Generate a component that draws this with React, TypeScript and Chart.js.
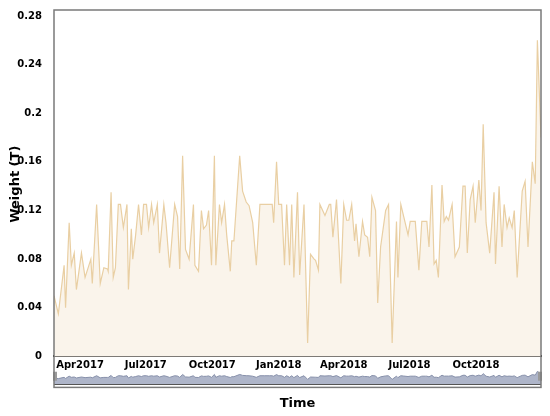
import React, { useEffect, useRef } from "react";
import { Chart, registerables } from "chart.js";

Chart.register(...registerables);

// Days counted from 2017-01-01
const DAYS = [
  54, 60, 68, 70, 75, 78, 82, 85, 92, 97, 105, 107, 113, 118, 123, 128, 129, 133, 136, 139,
  143, 146, 150, 155, 157, 161, 163, 167, 171, 175, 178, 182, 185, 189, 192, 197, 200, 206, 209, 214,
  221, 225, 228, 232, 236, 241, 247, 249, 254, 258, 261, 265, 268, 272, 276, 278, 283, 286, 290, 293,
  298, 300, 303, 311, 315, 320, 324, 329, 334, 339, 345, 352, 356, 358, 362, 365, 369, 373, 376, 380,
  383, 386, 391, 394, 400, 405, 409, 414, 416, 420, 422, 429, 435, 437, 440, 445, 451, 455, 459, 462,
  466, 470, 472, 476, 481, 484, 488, 491, 494, 499, 502, 506, 513, 517, 522, 528, 530, 534, 538, 544,
  547, 551, 554, 559, 563, 568, 570, 573, 577, 580, 583, 586, 591, 594, 597, 600, 605, 609, 615, 620,
  623, 626, 630, 634, 637, 642, 645, 648, 652, 657, 663, 665, 670, 674, 677, 681, 684, 688, 691, 695,
  702, 706, 710, 716, 720, 723, 728,
];

const WEIGHTS = [
  0.05, 0.035, 0.075, 0.04, 0.11, 0.075, 0.085, 0.055, 0.085, 0.065, 0.08, 0.06, 0.125, 0.06, 0.073, 0.072, 0.07, 0.135, 0.065, 0.073,
  0.125, 0.125, 0.106, 0.125, 0.055, 0.105, 0.08, 0.1, 0.125, 0.1, 0.125, 0.125, 0.106, 0.125, 0.11, 0.125, 0.085, 0.125, 0.11, 0.073,
  0.125, 0.115, 0.072, 0.165, 0.088, 0.08, 0.125, 0.075, 0.07, 0.12, 0.105, 0.108, 0.12, 0.075, 0.165, 0.075, 0.125, 0.11, 0.125, 0.1,
  0.07, 0.095, 0.095, 0.165, 0.136, 0.127, 0.124, 0.11, 0.075, 0.125, 0.125, 0.125, 0.125, 0.11, 0.16, 0.125, 0.125, 0.075, 0.125, 0.075,
  0.125, 0.065, 0.135, 0.067, 0.125, 0.011, 0.084, 0.08, 0.079, 0.071, 0.125, 0.116, 0.125, 0.125, 0.098, 0.129, 0.06, 0.125, 0.112, 0.112,
  0.125, 0.095, 0.109, 0.082, 0.111, 0.1, 0.098, 0.082, 0.131, 0.12, 0.044, 0.09, 0.12, 0.125, 0.011, 0.111, 0.065, 0.125, 0.115, 0.1,
  0.111, 0.111, 0.111, 0.071, 0.111, 0.111, 0.111, 0.09, 0.141, 0.076, 0.079, 0.065, 0.141, 0.111, 0.115, 0.112, 0.125, 0.082, 0.09, 0.14,
  0.14, 0.085, 0.129, 0.14, 0.11, 0.145, 0.12, 0.191, 0.11, 0.085, 0.135, 0.076, 0.14, 0.09, 0.125, 0.106, 0.114, 0.106, 0.12, 0.065,
  0.136, 0.144, 0.09, 0.16, 0.142, 0.26, 0.18,
];

const Y_TICKS = [0, 0.04, 0.08, 0.12, 0.16, 0.2, 0.24, 0.28];
const X_TICK_DAYS = [90, 181, 273, 365, 455, 546, 638];
const X_TICK_LABELS = ["Apr2017", "Jul2017", "Oct2017", "Jan2018", "Apr2018", "Jul2018", "Oct2018"];

const FONT = "'DejaVu Sans', sans-serif";
const NAV_BASE = -0.147;

const framePlugin = {
  id: "frame",
  afterDatasetsDraw(chart: any) {
    const { ctx, chartArea, scales } = chart;
    const y = scales.y;
    const y2 = scales.y2;
    ctx.save();
    // navigator bottom line
    const nb = Math.round(y2.getPixelForValue(NAV_BASE)) + 0.5;
    ctx.strokeStyle = "#555";
    ctx.lineWidth = 1;
    ctx.beginPath();
    ctx.moveTo(chartArea.left, nb);
    ctx.lineTo(chartArea.right, nb);
    ctx.stroke();
    // handles
    ctx.fillStyle = "#9a9a9a";
    const hTop = y2.getPixelForValue(0.25);
    const hH = 9;
    for (const hx of [chartArea.left - 1, chartArea.right - 3]) {
      ctx.beginPath();
      ctx.rect(hx, hTop, 4, hH);
      ctx.fill();
    }
    // frame
    ctx.strokeStyle = "#7a7a7a";
    ctx.lineWidth = 1.5;
    ctx.strokeRect(chartArea.left, chartArea.top, chartArea.right - chartArea.left, chartArea.bottom - chartArea.top);
    // y title
    const cy = (y.getPixelForValue(0) + chartArea.top) / 2 + 1;
    ctx.translate(18.5, cy);
    ctx.rotate(-Math.PI / 2);
    ctx.font = `bold 13px ${FONT}`;
    ctx.fillStyle = "#000";
    ctx.textAlign = "center";
    ctx.textBaseline = "alphabetic";
    ctx.fillText("Weight (T)", 0, 0);
    ctx.restore();
  },
};

export default function App() {
  const ref = useRef<HTMLCanvasElement | null>(null);

  useEffect(() => {
    if (!ref.current) return;
    const points = DAYS.map((d, i) => ({ x: d, y: WEIGHTS[i] }));
    const chart = new Chart(ref.current, {
      type: "line",
      data: {
        datasets: [
          {
            data: points,
            yAxisID: "y",
            borderColor: "#e9cfa3",
            borderWidth: 1.2,
            backgroundColor: "#faf4eb",
            fill: "origin",
            pointRadius: 0,
            tension: 0,
          },
          {
            data: points,
            yAxisID: "y2",
            borderColor: "#8790aa",
            borderWidth: 1,
            backgroundColor: "#aeb5c9",
            fill: { value: NAV_BASE },
            pointRadius: 0,
            tension: 0,
          },
        ],
      },
      options: {
        animation: false,
        responsive: false,
        maintainAspectRatio: false,
        layout: { padding: { top: 9, right: 9, left: 0, bottom: 0 } },
        plugins: {
          legend: { display: false },
          tooltip: { enabled: false },
          title: {
            display: true,
            text: "Time",
            position: "bottom",
            fullSize: false,
            color: "#000",
            font: { family: FONT, weight: "bold", size: 13 },
            padding: { top: 8, bottom: 5 },
          },
        },
        scales: {
          x: {
            type: "linear",
            min: 54,
            max: 728,
            position: { y: 0 } as any,
            grid: { display: false, drawTicks: false },
            border: { display: true, color: "#000", width: 2 },
            afterBuildTicks: (axis: any) => {
              axis.ticks = X_TICK_DAYS.map((v) => ({ value: v }));
            },
            ticks: {
              autoSkip: false,
              maxRotation: 0,
              padding: 3,
              color: "#000",
              font: { family: FONT, weight: "bold", size: 10 },
              callback: (_v: any, i: number) => X_TICK_LABELS[i],
            },
          },
          y: {
            type: "linear",
            min: -0.02545,
            max: 0.2849,
            position: "left",
            grid: { display: false },
            border: { display: false },
            afterBuildTicks: (axis: any) => {
              axis.ticks = Y_TICKS.map((v) => ({ value: v }));
            },
            afterFit: (scale: any) => {
              scale.width = 54;
            },
            ticks: {
              padding: 4,
              color: "#000",
              font: { family: FONT, weight: "bold", size: 10 },
              callback: (v: any) => String(Number(Number(v).toFixed(2))),
            },
          },
          y2: {
            type: "linear",
            display: false,
            min: -0.24,
            max: 11.57,
          },
        },
      },
      plugins: [framePlugin],
    });
    return () => chart.destroy();
  }, []);

  return (
    <div style={{ position: "fixed", left: 0, top: 0, width: 550, height: 416, background: "#fff" }}>
      <canvas ref={ref} width={550} height={416} style={{ width: 550, height: 416 }} />
    </div>
  );
}
